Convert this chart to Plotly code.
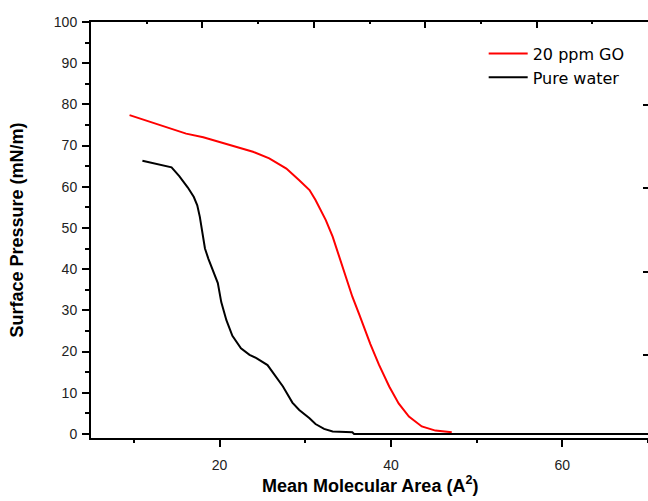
import plotly.graph_objects as go

# ---- data ----
go_area = [9.5, 12.2, 14.2, 16.1, 18.1, 20.0, 21.9, 23.9, 25.8, 27.8, 29.3, 30.5,
           31.2, 31.6, 32.4, 33.2, 34.0, 34.7, 35.5, 36.3, 37.0, 37.6,
           38.6, 39.8, 40.9, 42.1, 43.6, 45.2, 47.1]
go_pressure = [77.4, 75.5, 74.1, 72.9, 72.0, 70.9, 69.7, 68.5, 66.9, 64.4, 61.6, 59.2,
               56.8, 55.1, 51.9, 47.9, 43.0, 38.5, 33.3, 29.0, 25.0, 21.8,
               16.8, 11.5, 7.4, 4.2, 1.8, 0.8, 0.4]

water_area = [11.0, 12.0, 13.0, 14.4, 15.3, 16.3, 17.0, 17.4, 17.7, 18.0, 18.3, 18.7,
              19.2, 19.8, 20.2, 20.8, 21.5, 22.5, 23.5, 24.3, 25.6, 26.6, 27.4, 28.5,
              29.3, 30.5, 31.2, 32.2, 33.2, 35.5, 35.7, 70.0]
water_pressure = [66.3, 65.8, 65.3, 64.7, 62.6, 59.8, 57.5, 55.5, 52.7, 48.5, 45.0, 42.5,
                  39.8, 36.6, 32.0, 27.6, 23.8, 20.8, 19.2, 18.4, 16.7, 13.9, 11.5, 7.6,
                  5.8, 3.8, 2.4, 1.2, 0.6, 0.4, 0.0, 0.0]

series_names = ["20 ppm GO", "Pure water"]
series_colors = ["#ff0000", "#000000"]

x_range = [5, 70]
y_range = [-1, 100]
x_major = [20, 40, 60]
x_minor = [10, 30, 50, 70]
y_major = [0, 10, 20, 30, 40, 50, 60, 70, 80, 90, 100]
y_minor = [5, 15, 25, 35, 45, 55, 65, 75, 85, 95]
top_major = [5, 18, 31, 44, 57, 70]
top_minor = [11.5, 24.5, 37.5, 50.5, 63.5]
right_major = [19.2, 39.4, 59.6, 79.8]

x_title = "Mean Molecular Area (A<sup>2</sup>)"
y_title = "Surface Pressure (mN/m)"

fig = go.Figure()
fig.add_trace(go.Scatter(x=go_area, y=go_pressure, mode="lines", name=series_names[0],
                         line=dict(color=series_colors[0], width=2)))
fig.add_trace(go.Scatter(x=water_area, y=water_pressure, mode="lines", name=series_names[1],
                         line=dict(color=series_colors[1], width=2)))
# empty trace that carries the mirrored top/right frame axes
fig.add_trace(go.Scatter(x=[], y=[], xaxis="x2", yaxis="y2", showlegend=False,
                         hoverinfo="skip"))

tickfont = dict(family="Liberation Sans, Arial, sans-serif", size=14, color="#222222")
titlefont = dict(family="Liberation Sans, Arial, sans-serif", size=18, color="#000000",
                 weight="bold")

fig.update_layout(
    width=648, height=501,
    margin=dict(l=91, r=0, t=22, b=63),
    paper_bgcolor="white", plot_bgcolor="white",
    showlegend=True,
    legend=dict(x=0.705, y=0.965, xanchor="left", yanchor="top",
                bgcolor="rgba(0,0,0,0)", borderwidth=0, itemwidth=39,
                font=dict(family="DejaVu Sans, Verdana, sans-serif", size=16, color="#000000")),
    xaxis=dict(range=x_range, showgrid=False, zeroline=False,
               showline=True, linecolor="black", linewidth=2,
               ticks="outside", tickvals=x_major, ticklen=7, tickwidth=2, tickcolor="black",
               tickfont=tickfont, ticklabelstandoff=6,
               minor=dict(tickvals=x_minor, ticks="outside", ticklen=3,
                          tickwidth=2, tickcolor="black", showgrid=False)),
    yaxis=dict(range=y_range, showgrid=False, zeroline=False,
               showline=True, linecolor="black", linewidth=2,
               ticks="outside", tickvals=y_major, ticklen=7, tickwidth=2, tickcolor="black",
               tickfont=tickfont, ticklabelstandoff=2,
               minor=dict(tickvals=y_minor, ticks="outside",
                          ticklen=4, tickwidth=2, tickcolor="black", showgrid=False)),
    xaxis2=dict(range=x_range, overlaying="x", side="top", anchor="y2",
                showgrid=False, zeroline=False, showline=True, linecolor="black",
                linewidth=2, ticks="inside", tickvals=top_major, ticklen=6, tickwidth=2,
                tickcolor="black", showticklabels=False,
                minor=dict(tickvals=top_minor, ticks="inside", ticklen=2, tickwidth=2,
                           tickcolor="black", showgrid=False)),
    yaxis2=dict(range=y_range, overlaying="y", side="right", anchor="x2",
                showgrid=False, zeroline=False, showline=False,
                ticks="inside", tickvals=right_major, ticklen=5, tickwidth=2,
                tickcolor="black", showticklabels=False),
    annotations=[
        dict(text=x_title, xref="paper", yref="paper", x=0.501, y=-0.145,
             xanchor="center", yanchor="bottom", showarrow=False, font=titlefont),
        dict(text=y_title, xref="paper", yref="paper", x=-0.133, y=0.501,
             xanchor="center", yanchor="middle", showarrow=False, textangle=-90,
             font=titlefont),
    ],
)

fig.write_html("out.html")
